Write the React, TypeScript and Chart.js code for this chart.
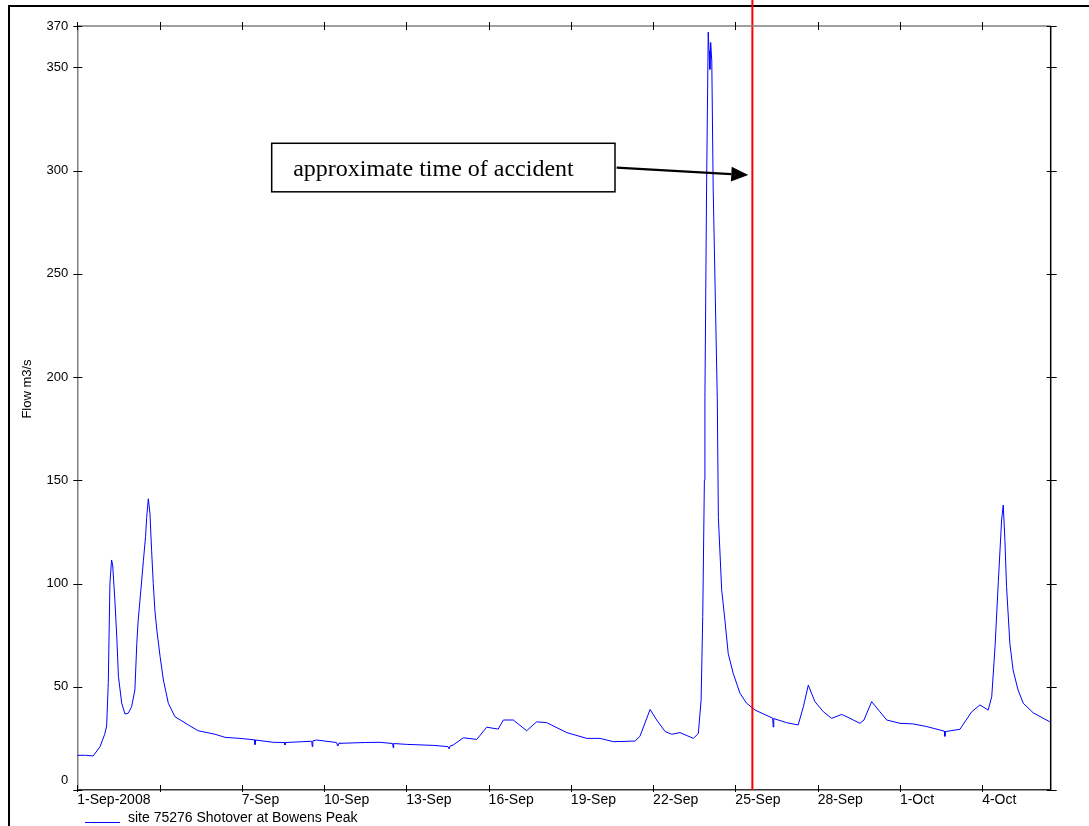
import React, { useEffect, useRef } from 'react';
import { Chart, registerables } from 'chart.js';

Chart.register(...registerables);

// ---- data (days since 1-Sep-2008 00:00, flow in m3/s) ----
const days = [
  0.0, 0.3, 0.58, 0.83, 1.0, 1.07, 1.13, 1.19, 1.25, 1.29, 1.37, 1.44, 1.5, 1.62, 1.74, 1.86, 1.98,
  2.1, 2.17, 2.22, 2.35, 2.41, 2.49, 2.53, 2.59, 2.65, 2.71, 2.77, 2.83, 2.9, 3.02, 3.14, 3.32, 3.56,
  4.05, 4.41, 5.02, 5.39, 5.93, 6.46, 6.48, 6.5, 7.15, 7.55, 7.57, 7.59, 8.55, 8.57, 8.59, 8.73,
  9.45, 9.5, 9.55, 9.58, 10.5, 11.04, 11.5, 11.52, 11.54, 12.01, 13.0, 13.52, 13.56, 13.6, 13.71,
  14.08, 14.57, 14.93, 15.35, 15.54, 15.9, 16.39, 16.75, 17.12, 17.85, 18.58, 19.06, 19.55, 20.34,
  20.52, 20.89, 21.13, 21.44, 21.68, 21.98, 22.47, 22.65, 22.75, 22.81, 22.87, 22.89, 22.95, 23.01,
  23.04, 23.07, 23.1, 23.14, 23.19, 23.26, 23.34, 23.38, 23.5, 23.62, 23.74, 23.92, 24.17, 24.41,
  24.72, 25.36, 25.38, 25.4, 25.87, 26.29, 26.48, 26.66, 26.9, 27.21, 27.51, 27.88, 28.18, 28.54,
  28.69, 28.97, 29.27, 29.52, 30.0, 30.49, 30.98, 31.62, 31.64, 31.66, 32.19, 32.37, 32.62, 32.92,
  33.22, 33.35, 33.47, 33.59, 33.71, 33.77, 33.83, 33.89, 34.01, 34.13, 34.31, 34.5, 34.86, 35.47,
];
const flow = [
  16.8, 16.8, 16.5, 21, 27, 31, 52, 100, 111.4, 109, 92, 74, 55, 42, 36.8, 37.2, 40.3,
  48.4, 71, 82, 101.7, 111, 122.7, 132, 141, 134, 116, 100, 87, 77.5, 64.6, 53.3, 42, 35.5,
  31.5, 28.7, 27, 25.5, 25, 24.3, 22, 24.2, 23.1, 23, 21.8, 23, 23.6, 21, 23.8, 24.2,
  23, 21.3, 22.8, 22.6, 23, 23.1, 22.5, 20.5, 22.5, 22.1, 21.6, 21, 19.9, 21.3, 21.8,
  25.3, 24.5, 30.4, 29.5, 33.9, 33.9, 28.7, 33, 32.6, 27.8, 25, 25, 23.4, 23.7,
  26, 39, 33.9, 28.3, 27, 27.8, 25, 27.4, 43.6, 84, 150, 190, 292, 367,
  358, 349, 362, 353, 292, 244, 190, 132, 97, 82, 66, 56.5, 46.8, 42,
  38.7, 34.8, 30.5, 34.6, 32.6, 31.5, 40.3, 50.8, 42.8, 37.9, 34.7, 36.6, 34.7, 32.3,
  33.9, 42.8, 37.9, 33.9, 32.3, 32, 30.7, 28.5, 26, 28.3, 29.4, 33, 37.9, 41.2,
  38.7, 45.2, 69.4, 101, 130.8, 138, 121, 98.5, 71, 58, 48.4, 42, 37.4, 33,
];

const tickDays = [0, 3, 6, 9, 12, 15, 18, 21, 24, 27, 30, 33];
const tickLabels = ['1-Sep-2008', '', '7-Sep', '10-Sep', '13-Sep', '16-Sep', '19-Sep', '22-Sep', '25-Sep', '28-Sep', '1-Oct', '4-Oct'];
const yTicks = [0, 50, 100, 150, 200, 250, 300, 350, 370];

const seriesLabel = 'site 75276 Shotover at Bowens Peak';
const yTitle = 'Flow m3/s';
const accidentDay = 24.62;
const annotationText = 'approximate time of accident';
// annotation box and arrow in data units (day, flow)
const boxCorners = [7.09, 313.2, 19.61, 289.7];
const arrowFromTo = [19.67, 301.4, 24.47, 297.8];

const SANS = '"Liberation Sans", Arial, sans-serif';

const decor = {
  id: 'decor',
  beforeDraw(chart: any) {
    const ctx = chart.ctx;
    ctx.save();
    ctx.fillStyle = '#ffffff';
    ctx.fillRect(0, 0, chart.width, chart.height);
    ctx.strokeStyle = '#000000';
    ctx.lineWidth = 2;
    ctx.strokeRect(9, 6, 1300, 1000);
    ctx.restore();
  },
  afterDatasetsDraw(chart: any) {
    const ctx = chart.ctx;
    const xs = chart.scales.x;
    const { bottom } = chart.chartArea;
    const x = xs.getPixelForValue(accidentDay);
    ctx.save();
    ctx.strokeStyle = '#ff0000';
    ctx.lineWidth = 2;
    ctx.beginPath();
    ctx.moveTo(x, 0);
    ctx.lineTo(x, bottom);
    ctx.stroke();
    ctx.restore();
  },
  afterDraw(chart: any) {
    const ctx = chart.ctx;
    const xs = chart.scales.x;
    const ys = chart.scales.y;
    const { left, right, top, bottom } = chart.chartArea;
    ctx.save();
    // top and right frame of the axes
    ctx.lineWidth = 1.5;
    ctx.strokeStyle = '#7f7f7f';
    ctx.beginPath();
    ctx.moveTo(left, top);
    ctx.lineTo(right, top);
    ctx.stroke();
    ctx.strokeStyle = '#000000';
    ctx.beginPath();
    ctx.moveTo(right, top);
    ctx.lineTo(right, bottom);
    ctx.stroke();
    // tick marks
    ctx.lineWidth = 1;
    ctx.strokeStyle = '#000000';
    ctx.beginPath();
    for (const t of xs.ticks) {
      const px = Math.round(xs.getPixelForValue(t.value)) + 0.5;
      ctx.moveTo(px, bottom - 5);
      ctx.lineTo(px, bottom + 2);
      ctx.moveTo(px, top - 4);
      ctx.lineTo(px, top + 4);
    }
    for (const t of ys.ticks) {
      const py = Math.round(ys.getPixelForValue(t.value)) + 0.5;
      ctx.moveTo(left - 4, py);
      ctx.lineTo(left + 5, py);
      ctx.moveTo(right - 4, py);
      ctx.lineTo(right + 6, py);
    }
    ctx.stroke();

    // "0" label sits a little above its tick, as in the original plot
    ctx.fillStyle = '#000000';
    ctx.font = '13px ' + SANS;
    ctx.textAlign = 'right';
    ctx.textBaseline = 'middle';
    ctx.fillText(String(yTicks[0]), left - 9, ys.getPixelForValue(yTicks[0]) - 10);

    // y axis title
    ctx.save();
    ctx.translate(27.5, 389);
    ctx.rotate(-Math.PI / 2);
    ctx.textAlign = 'center';
    ctx.textBaseline = 'middle';
    ctx.font = '13px ' + SANS;
    ctx.fillText(yTitle, 0, 0);
    ctx.restore();

    // annotation box
    const bx1 = xs.getPixelForValue(boxCorners[0]);
    const by1 = ys.getPixelForValue(boxCorners[1]);
    const bx2 = xs.getPixelForValue(boxCorners[2]);
    const by2 = ys.getPixelForValue(boxCorners[3]);
    ctx.fillStyle = '#ffffff';
    ctx.fillRect(bx1, by1, bx2 - bx1, by2 - by1);
    ctx.lineWidth = 1.5;
    ctx.strokeStyle = '#000000';
    ctx.strokeRect(bx1, by1, bx2 - bx1, by2 - by1);
    ctx.fillStyle = '#000000';
    ctx.font = '24px "Liberation Serif", "Times New Roman", serif';
    ctx.textBaseline = 'alphabetic';
    ctx.textAlign = 'left';
    ctx.fillText(annotationText, bx1 + 21.5, by1 + 33);

    // arrow
    const ax1 = xs.getPixelForValue(arrowFromTo[0]);
    const ay1 = ys.getPixelForValue(arrowFromTo[1]);
    const ax2 = xs.getPixelForValue(arrowFromTo[2]);
    const ay2 = ys.getPixelForValue(arrowFromTo[3]);
    const ang = Math.atan2(ay2 - ay1, ax2 - ax1);
    const headL = 17;
    const headW = 7.5;
    const bxh = ax2 - Math.cos(ang) * headL;
    const byh = ay2 - Math.sin(ang) * headL;
    ctx.lineWidth = 2.2;
    ctx.beginPath();
    ctx.moveTo(ax1, ay1);
    ctx.lineTo(bxh, byh);
    ctx.stroke();
    ctx.beginPath();
    ctx.moveTo(ax2, ay2);
    ctx.lineTo(bxh - Math.sin(ang) * headW, byh + Math.cos(ang) * headW);
    ctx.lineTo(bxh + Math.sin(ang) * headW, byh - Math.cos(ang) * headW);
    ctx.closePath();
    ctx.fill();

    // legend
    const ds = chart.data.datasets[0];
    ctx.strokeStyle = ds.borderColor;
    ctx.lineWidth = 1;
    ctx.beginPath();
    ctx.moveTo(85, 822.5);
    ctx.lineTo(120, 822.5);
    ctx.stroke();
    ctx.fillStyle = '#000000';
    ctx.font = '14px ' + SANS;
    ctx.textBaseline = 'alphabetic';
    ctx.textAlign = 'left';
    ctx.fillText(ds.label, 128, 821.5);
    ctx.restore();
  },
};

export default function App() {
  const ref = useRef<HTMLCanvasElement | null>(null);
  useEffect(() => {
    if (!ref.current) return;
    const points = days.map((d, i) => ({ x: d, y: flow[i] }));
    const chart = new Chart(ref.current, {
      type: 'line',
      data: {
        datasets: [
          {
            label: seriesLabel,
            data: points,
            borderColor: '#0000ff',
            borderWidth: 1,
            pointRadius: 0,
            tension: 0,
            fill: false,
          },
        ],
      },
      options: {
        animation: false,
        responsive: false,
        events: [],
        layout: { padding: { left: 0, top: 26, right: 38.3, bottom: 0 } },
        plugins: { legend: { display: false }, tooltip: { enabled: false } },
        scales: {
          x: {
            type: 'linear',
            min: 0,
            max: 35.5,
            afterBuildTicks: (s: any) => {
              s.ticks = tickDays.map((v) => ({ value: v }));
            },
            afterFit: (s: any) => {
              s.height = 36;
            },
            grid: { display: false, drawTicks: false },
            border: { display: true, color: '#333333', width: 1.5 },
            ticks: {
              autoSkip: false,
              maxRotation: 0,
              minRotation: 0,
              align: 'start',
              padding: 2,
              color: '#000000',
              font: { family: SANS, size: 14 },
              callback: (v: any) => {
                const i = tickDays.indexOf(Number(v));
                return i >= 0 ? tickLabels[i] : '';
              },
            },
          },
          y: {
            min: 0,
            max: 370,
            afterBuildTicks: (s: any) => {
              s.ticks = yTicks.map((v) => ({ value: v }));
            },
            afterFit: (s: any) => {
              s.width = 77.3;
            },
            grid: { display: false, drawTicks: false },
            border: { display: true, color: '#7f7f7f', width: 1.5 },
            ticks: {
              autoSkip: false,
              padding: 9,
              color: '#000000',
              font: { family: SANS, size: 13 },
              callback: (v: any) => (Number(v) === yTicks[0] ? '' : String(v)),
            },
          },
        },
      } as any,
      plugins: [decor],
    });
    return () => chart.destroy();
  }, []);
  return (
    <div style={{ position: 'absolute', left: 0, top: 0, width: 1089, height: 826, background: '#ffffff', overflow: 'hidden' }}>
      <canvas ref={ref} width={1089} height={826} style={{ display: 'block' }} />
    </div>
  );
}
